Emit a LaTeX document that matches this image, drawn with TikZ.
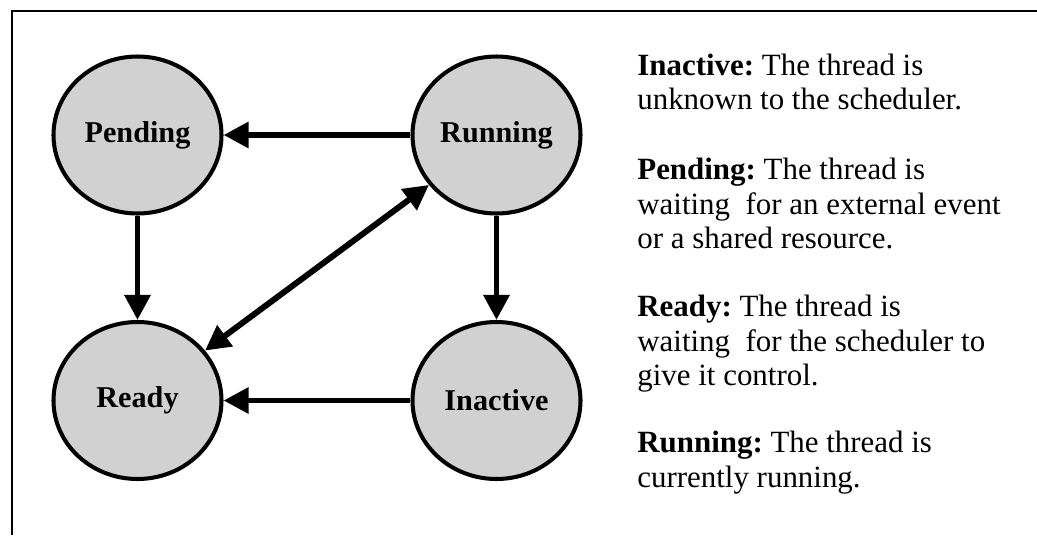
\documentclass[tikz,border=0pt]{standalone}
\usepackage{fontspec}
\setmainfont{Liberation Serif}
\usepackage{tikz}
\usetikzlibrary{arrows.meta, shapes.geometric}
\frenchspacing

\begin{document}
\begin{tikzpicture}[
        state/.style={
            ellipse,
            draw=black,
            fill=black!18,
            line width=2.3pt,
            inner sep=0pt,
            minimum width=3.36cm,
            minimum height=3.14cm,
            font=\fontsize{17.2}{19}\selectfont\bfseries
          },
        desc/.style={
            anchor=north west,
            inner sep=0pt,
            align=left,
            font=\fontsize{17.6}{19.5}\selectfont
          },
        arr/.style={-{Triangle[length=0.50cm, width=0.50cm]}, line width=3.4pt},
        darr/.style={{Triangle[length=0.50cm, width=0.50cm]}-{Triangle[length=0.50cm, width=0.50cm]}, line width=3.4pt},
        frame/.style={line width=1.1pt}
      ]
      \useasboundingbox (0,0) rectangle (20.74,-10.70);
      \draw[frame] (0.24,-10.70) |- (20.74,-0.22);

      \node[state] (pending) at (2.75,-2.70) {Pending};
      \node[state] (running) at (9.93,-2.70) {Running};
      \node[state] (ready) at (2.75,-8.01) {Ready};
      \node[state] (inactive) at (9.93,-8.01) {Inactive};

      \draw[arr] (running) -- (pending);
      \draw[arr] (pending) -- (ready);
      \draw[arr] (running) -- (inactive);
      \draw[arr] (inactive) -- (ready);
      \draw[darr] (ready) -- (running);

      \node[desc] (txt_inactive) at (12.74,-1.07) {\textbf{Inactive:} The thread is\\unknown to the scheduler.};
      \node[desc] (txt_pending) at (12.74,-3.16) {\textbf{Pending:} The thread is\\waiting\ \ for an external event\\or a shared resource.};
      \node[desc] (txt_ready) at (12.74,-5.90) {\textbf{Ready:} The thread is\\waiting\ \ for the scheduler to\\give it control.};
      \node[desc] (txt_running) at (12.74,-8.62) {\textbf{Running:} The thread is\\currently running.};
    \end{tikzpicture}
\end{document}
